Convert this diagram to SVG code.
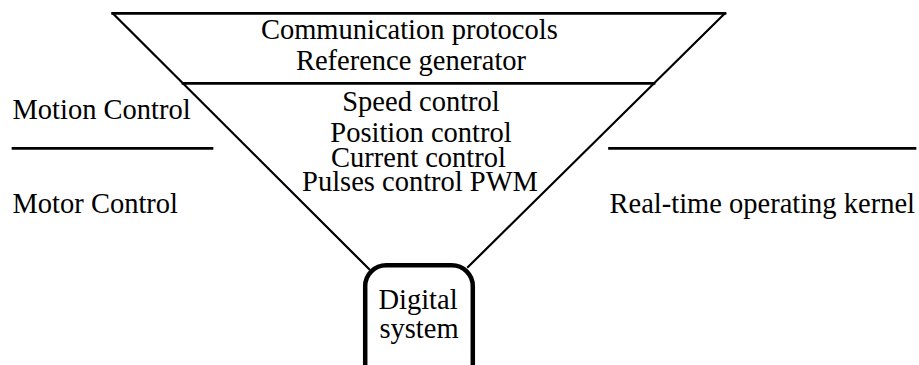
<svg xmlns="http://www.w3.org/2000/svg" width="919" height="365" viewBox="0 0 919 365">
<style>
text{font-family:'Liberation Serif','Times New Roman',serif;font-size:28.5px;fill:#000}
.c{text-anchor:middle}
.ln{stroke:#000;fill:none;stroke-linecap:square}
</style>
<rect width="919" height="365" fill="#fff"/>
<g id="connectors">
<line class="ln" x1="112.7" y1="13.3" x2="369" y2="269" stroke-width="2.2"/>
<line class="ln" x1="725" y1="13.3" x2="468" y2="267" stroke-width="2.2"/>
</g>
<g id="top-layer">
<line class="ln" x1="112.7" y1="13.3" x2="725" y2="13.3" stroke-width="2.7"/>
<text class="c" x="409.3" y="38.5">Communication protocols</text>
<text class="c" x="411" y="69.5">Reference generator</text>
</g>
<g id="middle-layer">
<line class="ln" x1="183" y1="83.3" x2="654" y2="83.3" stroke-width="2.7"/>
<text class="c" x="421" y="111">Speed control</text>
<text class="c" x="421" y="141.7">Position control</text>
<text class="c" x="418.5" y="166.7">Current control</text>
<text class="c" x="420" y="191.3">Pulses control PWM</text>
</g>
<g id="left-labels">
<text x="12.5" y="119.3">Motion Control</text>
<line class="ln" x1="13" y1="148.3" x2="212" y2="148.3" stroke-width="2.7" stroke-linecap="butt"/>
<text x="12.5" y="213.3">Motor Control</text>
</g>
<g id="right-labels">
<line class="ln" x1="609.5" y1="148.3" x2="915" y2="148.3" stroke-width="2.7" stroke-linecap="butt"/>
<text x="609.5" y="213.3">Real-time operating kernel</text>
</g>
<g id="digital-system">
<rect x="365.2" y="265.2" width="107.6" height="130" rx="21" ry="21" fill="#fff" stroke="#000" stroke-width="4.5"/>
<text class="c" x="418" y="309">Digital</text>
<text class="c" x="419" y="338.3">system</text>
</g>
</svg>
